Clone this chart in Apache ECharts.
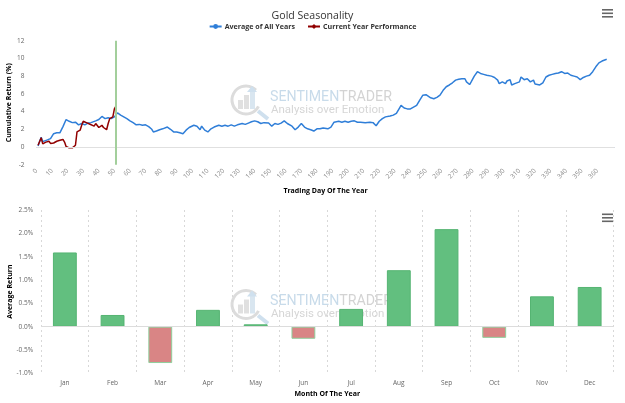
<!DOCTYPE html>
<html>
<head>
<meta charset="utf-8">
<title>Gold Seasonality</title>
<script src="https://cdn.jsdelivr.net/npm/echarts@6/dist/echarts.min.js"></script>
<style>
	html, body { margin: 0; padding: 0; background: #fff; }
	#chart { width: 625px; height: 403px; }
</style>
</head>
<body>
<div id="chart"></div>
<script>
// average cumulative return of all years, by trading day
var avgDay = [1, 3, 4, 5, 7, 9, 11, 13, 15, 17, 19, 21, 23, 25, 27, 29, 31, 33, 35, 38, 40, 42, 44, 46, 48, 50,
	52, 54, 56, 58, 60, 62, 64, 66, 68, 70, 72, 74, 75, 77, 79, 81, 84, 86, 88, 90, 92, 94, 96, 98, 101, 103,
	105, 106, 107, 108, 110, 112, 114, 117, 119, 121, 123, 125, 127, 129, 132, 134, 136, 138, 140, 142, 143,
	144, 146, 149, 151, 153, 155, 157, 159, 161, 164, 166, 168, 170, 172, 174, 176, 178, 180, 182, 184, 187,
	189, 191, 194, 196, 198, 200, 202, 204, 206, 208, 211, 214, 216, 218, 220, 222, 224, 227, 229, 231, 233,
	234, 236, 238, 240, 242, 244, 246, 248, 250, 251, 253, 255, 257, 259, 261, 263, 265, 267, 269, 271, 273,
	275, 276, 278, 279, 281, 283, 285, 287, 289, 292, 294, 296, 297, 299, 301, 302, 304, 305, 307, 310, 311,
	313, 315, 317, 319, 320, 323, 325, 327, 329, 331, 333, 335, 337, 339, 341, 343, 345, 347, 349, 351, 353,
	355, 357, 359, 361, 363, 364, 366];
var avgRet = [0.1, 1.1, 0.6, 0.6, 0.8, 0.95, 1.5, 1.6, 1.6, 2.3, 3.1, 2.9, 2.75, 2.8, 2.5, 2.65, 2.5, 2.7, 2.75, 2.95, 3.1, 3.45, 3.2, 3.3, 3.2, 3.4,
	3.85, 3.6, 3.4, 3.2, 2.95, 2.75, 2.5, 2.55, 2.45, 2.5, 2.3, 2.0, 1.7, 1.8, 1.95, 2.05, 2.25, 2.0, 1.7, 1.7, 1.6, 1.5, 1.9, 2.2, 2.45, 2.35,
	1.95, 2.35, 2.5, 1.9, 1.7, 2.05, 2.25, 2.45, 2.35, 2.45, 2.35, 2.5, 2.35, 2.5, 2.65, 2.55, 2.7, 2.85, 2.95, 2.85, 2.95,
	2.65, 2.75, 2.7, 2.35, 2.65, 2.55, 2.7, 2.95, 2.65, 2.35, 1.95, 2.25, 2.65, 2.25, 2.05, 1.95, 1.8, 2.05, 2.05, 2.15, 2.05,
	2.25, 2.8, 2.9, 2.8, 2.9, 2.8, 2.9, 2.95, 2.8, 2.8, 2.75, 2.8, 2.75, 2.4, 2.9, 3.2, 3.4, 3.5, 3.6, 3.8, 4.4,
	4.7, 4.4, 4.3, 4.3, 4.5, 4.7, 5.3, 5.85, 5.9, 5.7, 5.55, 5.45, 5.6, 5.85, 6.4, 6.8, 7.0, 7.25, 7.55, 7.65, 7.7,
	7.7, 7.35, 7.05, 7.35, 8.0, 8.5, 8.3, 8.2, 8.1, 8.0, 7.85, 7.55, 7.15, 7.35, 7.15, 7.45, 7.6, 7.0, 7.15, 7.35, 7.9,
	7.6, 7.7, 7.35, 7.55, 7.1, 7.0, 7.25, 7.9, 8.1, 8.2, 8.3, 8.35, 8.5, 8.3, 8.35, 8.1, 8.0, 7.9, 7.6, 7.85, 8.0,
	8.1, 8.5, 9.05, 9.5, 9.7, 9.6, 9.9];

// current year performance
var curDay = [1, 2, 3, 4, 6, 7, 8, 9, 10, 11, 13, 15, 17, 18, 19, 21, 22, 23, 25, 26, 27, 28, 29, 30, 32, 34,
	35, 37, 38, 40, 42, 43, 45, 46, 47, 48, 49, 50, 51];
var curRet = [0.2, 0.2, 1.05, 0.35, 0.55, 0.35, 0.65, 0.4, 0.6, 0.45, 0.65, 0.75, 0.85, 0.55, 0.05, -0.1, 0.1, -0.1, 0.2, 1.7, 1.7, 1.9, 2.45, 2.9, 2.75, 2.6,
	2.6, 2.35, 2.65, 2.2, 2.45, 2.2, 1.95, 2.65, 3.2, 3.2, 3.4, 4.3, 4.6];
var today = 51;

// average return by month
var months = ['Jan', 'Feb', 'Mar', 'Apr', 'May', 'Jun', 'Jul', 'Aug', 'Sep', 'Oct', 'Nov', 'Dec'];
var monthRet = [1.59, 0.25, -0.78, 0.36, 0.05, -0.26, 0.38, 1.21, 2.09, -0.24, 0.65, 0.85];

var FONT = 'Open Sans';

function zip(a, b) {
	var out = [];
	for (var i = 0; i < a.length; i++) {
		out.push([a[i], b[i]]);
	}
	return out;
}

// hamburger menu icon
function menuIcon(y) {
	var lines = [];
	for (var i = 0; i < 3; i++) {
		lines.push({
			type: 'rect',
			shape: { x: 602, y: y + i * 3.5, width: 11, height: 1.6 },
			style: { fill: '#666' }
		});
	}
	return { type: 'group', silent: true, children: lines };
}

// faint watermark: logo + brand text
function watermark(dy) {
	return {
		type: 'group', silent: true, z: -1,
		children: [
			{ type: 'arc', shape: { cx: 246, cy: 100 + dy, r: 14, startAngle: Math.PI * 0.15, endAngle: Math.PI * 1.75 },
				style: { stroke: '#dcdcdc', lineWidth: 3, fill: null } },
			{ type: 'rect', shape: { x: 238, y: 100 + dy, width: 5, height: 9 }, style: { fill: '#e0e0e0' } },
			{ type: 'rect', shape: { x: 244, y: 95 + dy, width: 5, height: 14 }, style: { fill: '#e0e0e0' } },
			{ type: 'rect', shape: { x: 250, y: 91 + dy, width: 5, height: 18 }, style: { fill: '#d9e6f0' } },
			{ type: 'line', shape: { x1: 258, y1: 111 + dy, x2: 268, y2: 119 + dy },
				style: { stroke: '#cfe0ee', lineWidth: 4 } },
			{ type: 'polygon', shape: { points: [[252, 86 + dy], [257, 92 + dy], [247, 92 + dy]] }, style: { fill: '#cfe0ee' } },
			{ type: 'text', x: 270, y: 90 + dy,
				style: {
					text: '{a|SENTIMEN}{b|TRADER}',
					rich: {
						a: { fill: '#c8dbea', font: '14.2px Roboto' },
						b: { fill: '#d3d3d3', font: '14.2px Roboto' }
					}
				} },
			{ type: 'text', x: 271, y: 104 + dy,
				style: { text: 'Analysis over Emotion', fill: '#d6d6d6', font: '11.5px Roboto' } }
		]
	};
}

var chart = echarts.init(document.getElementById('chart'));

var barData = monthRet.map(function (v) {
	var up = v >= 0;
	return {
		value: v,
		itemStyle: { color: up ? '#62bf7f' : '#d98585', borderColor: up ? '#55b472' : '#8fcf9c', borderWidth: 1 }
	};
});

var axisName = { fontFamily: FONT, fontSize: 7, fontWeight: 'bold', color: '#000' };
var tickText = { fontFamily: FONT, fontSize: 6.5, color: '#666' };

var option = {
	animation: false,
	backgroundColor: '#fff',
	title: {
		text: 'Gold Seasonality',
		left: 'center',
		top: 5,
		textStyle: { fontFamily: FONT, fontSize: 10.6, fontWeight: 'normal', color: '#333' }
	},
	legend: {
		top: 18,
		left: 'center',
		itemGap: 12,
		itemWidth: 12,
		itemHeight: 6,
		data: ['Average of All Years', 'Current Year Performance'],
		textStyle: { fontFamily: FONT, fontSize: 7.1, fontWeight: 'bold', color: '#333', padding: [0, 0, 0, -2] }
	},
	graphic: [menuIcon(9), menuIcon(213.5), watermark(0), watermark(204.5)],
	grid: [
		{ left: 36.5, right: 10.5, top: 40.7, bottom: 238.3, outerBoundsMode: 'none', containLabel: false },
		{ left: 41, right: 11.5, top: 210, bottom: 29.7, outerBoundsMode: 'none', containLabel: false }
	],
	xAxis: [
		{
			gridIndex: 0,
			type: 'value',
			min: 0,
			max: 371,
			interval: 10,
			name: 'Trading Day Of The Year',
			nameLocation: 'middle',
			nameGap: 23,
			nameMoveOverlap: false,
			nameTextStyle: axisName,
			axisLine: { lineStyle: { color: '#ccd6eb' } },
			axisTick: { show: false },
			splitLine: { show: false },
			axisLabel: {
				rotate: 45,
				margin: 5,
				fontFamily: FONT,
				fontSize: 6.5,
				color: '#8a8a8a',
				showMaxLabel: false,
				formatter: function (v) { return v > 360 ? '' : v; }
			}
		},
		{
			gridIndex: 1,
			type: 'category',
			data: months,
			name: 'Month Of The Year',
			nameLocation: 'middle',
			nameGap: 17,
			nameMoveOverlap: false,
			nameTextStyle: axisName,
			axisLine: { show: false },
			axisTick: { show: false },
			splitLine: { show: true, interval: 0, lineStyle: { color: '#d8d8d8', type: [2, 3] } },
			axisLabel: Object.assign({ margin: 6 }, tickText)
		}
	],
	yAxis: [
		{
			gridIndex: 0,
			type: 'value',
			min: -2,
			max: 12,
			interval: 2,
			name: 'Cumulative Return (%)',
			nameLocation: 'middle',
			nameGap: 24.5,
			nameMoveOverlap: false,
			nameTextStyle: axisName,
			axisLine: { show: false },
			axisTick: { show: false },
			splitLine: { show: false },
			axisLabel: Object.assign({ margin: 12 }, tickText)
		},
		{
			gridIndex: 1,
			type: 'value',
			min: -1,
			max: 2.5,
			interval: 0.5,
			name: 'Average Return',
			nameLocation: 'middle',
			nameGap: 28,
			nameMoveOverlap: false,
			nameTextStyle: axisName,
			axisLine: { show: false },
			axisTick: { show: false },
			splitLine: { show: false },
			axisLabel: Object.assign({
				margin: 8,
				formatter: function (v) { return v.toFixed(1) + '%'; }
			}, tickText)
		}
	],
	series: [
		{
			name: 'Average of All Years',
			type: 'line',
			xAxisIndex: 0,
			yAxisIndex: 0,
			data: zip(avgDay, avgRet),
			symbol: 'circle',
			symbolSize: 5,
			showSymbol: false,
			color: '#2f7ed8',
			lineStyle: { width: 1.5, color: '#2f7ed8' },
			z: 3,
			markLine: {
				silent: true,
				symbol: 'none',
				label: { show: false },
				data: [
					{ yAxis: 0, lineStyle: { color: '#e0e0e0', width: 1, type: 'solid' } },
					{ xAxis: today, lineStyle: { color: '#a3cf9c', width: 2, type: 'solid' } }
				]
			}
		},
		{
			name: 'Current Year Performance',
			type: 'line',
			xAxisIndex: 0,
			yAxisIndex: 0,
			data: zip(curDay, curRet),
			symbol: 'diamond',
			symbolSize: 6,
			showSymbol: false,
			color: '#910000',
			lineStyle: { width: 1.5, color: '#910000' },
			z: 4
		},
		{
			name: 'Monthly',
			type: 'bar',
			xAxisIndex: 1,
			yAxisIndex: 1,
			barWidth: '50%',
			data: barData,
			markLine: {
				silent: true,
				symbol: 'none',
				label: { show: false },
				data: [{ yAxis: 0, lineStyle: { color: '#dcdcdc', width: 1, type: 'solid' } }]
			}
		}
	]
};

chart.setOption(option);
</script>
</body>
</html>
